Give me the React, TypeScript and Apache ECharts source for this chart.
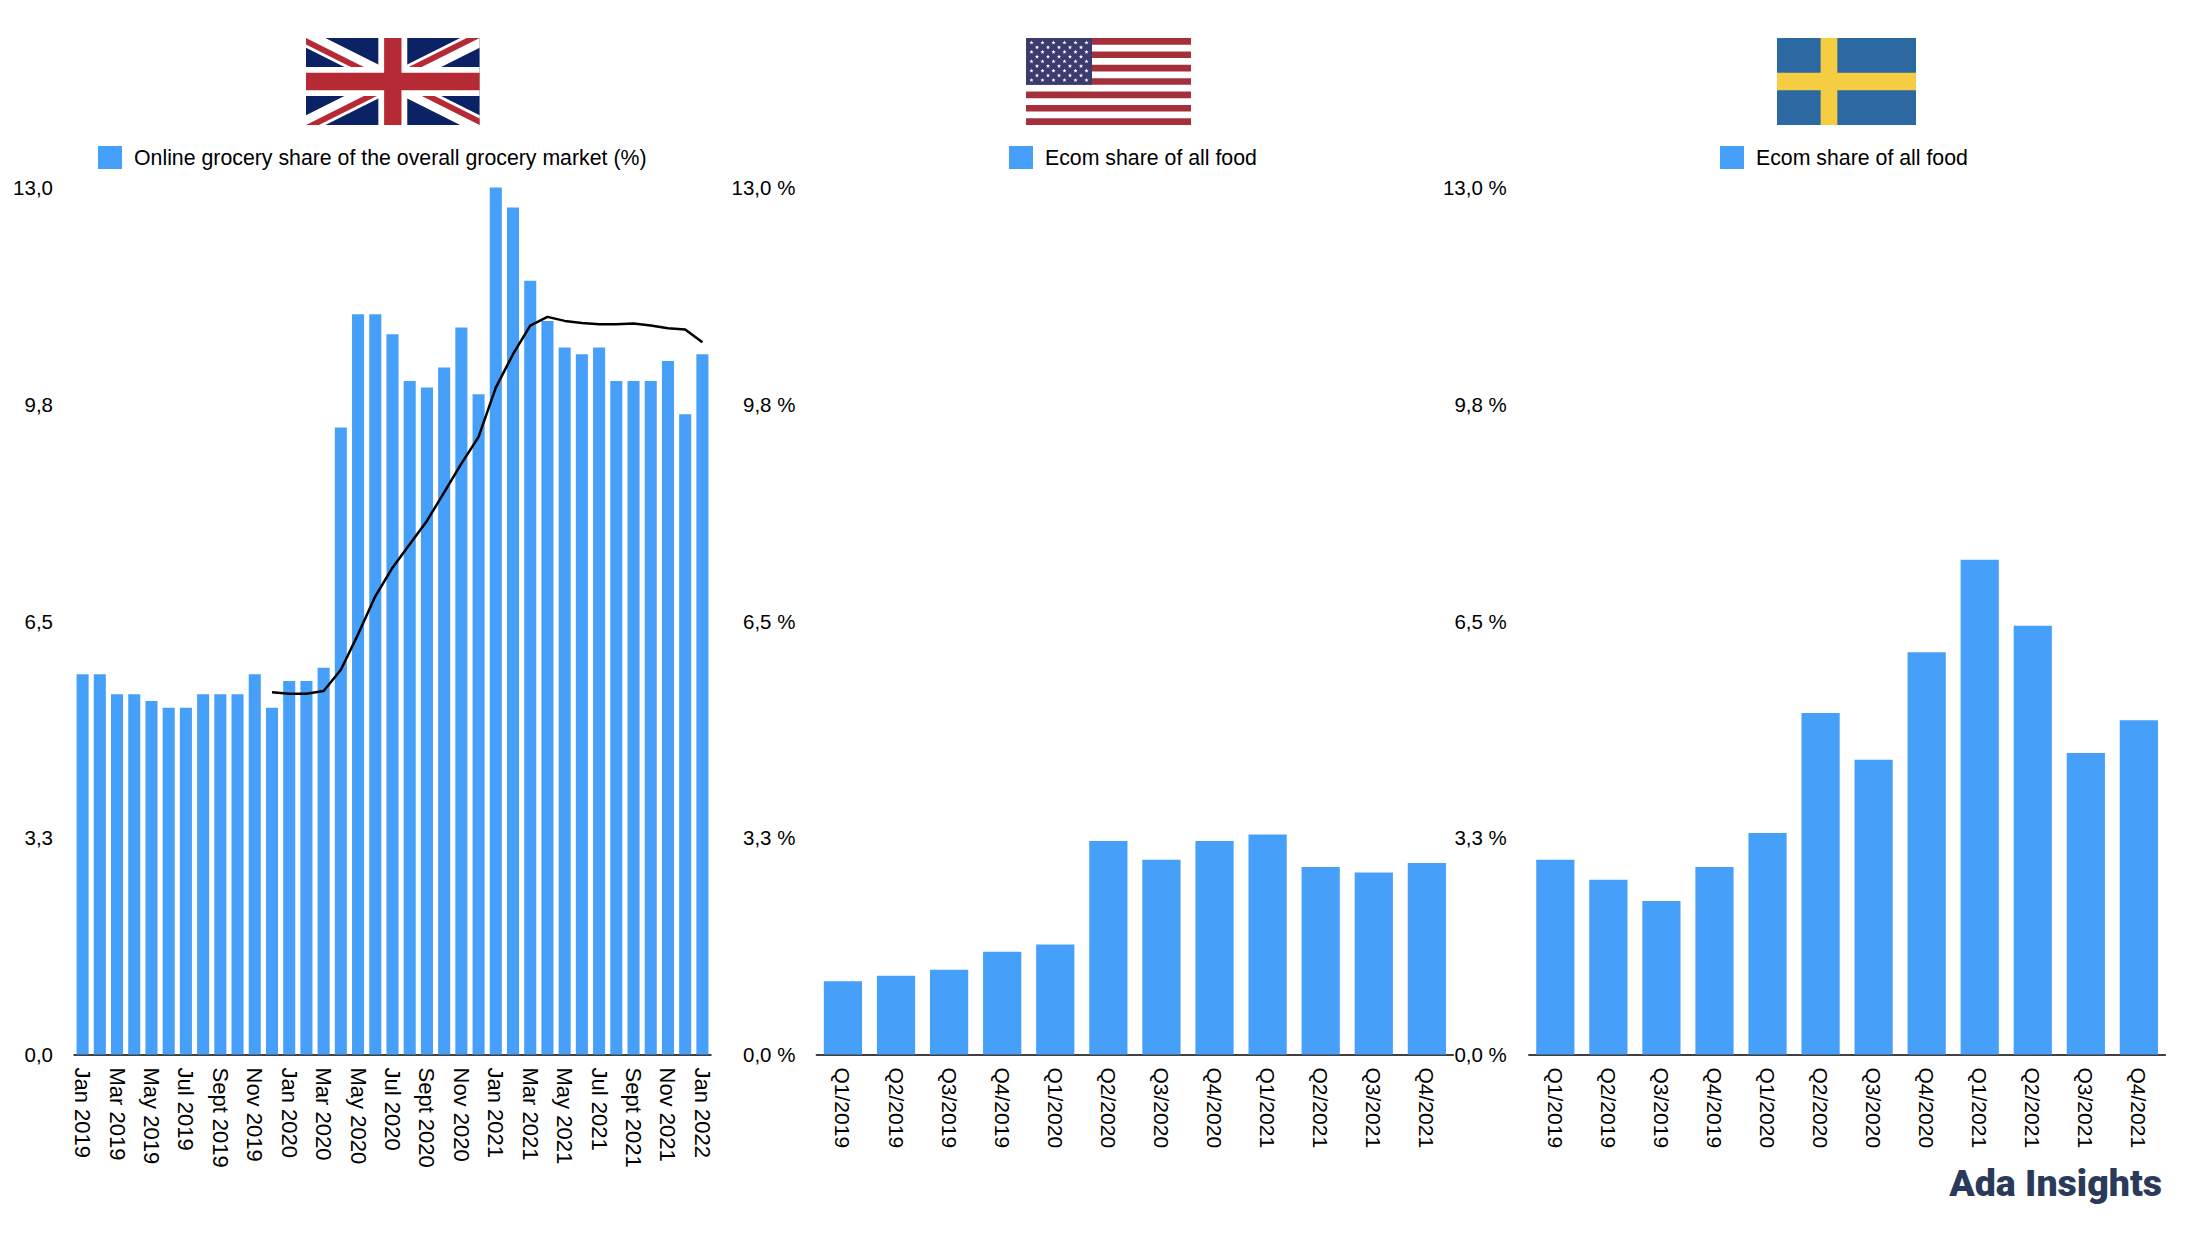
import React, { useEffect, useRef } from "react";
import * as echarts from "echarts";

const monthLabels = [
  "Jan 2019","Feb 2019","Mar 2019","Apr 2019","May 2019","Jun 2019","Jul 2019","Aug 2019","Sept 2019","Oct 2019","Nov 2019","Dec 2019",
  "Jan 2020","Feb 2020","Mar 2020","Apr 2020","May 2020","Jun 2020","Jul 2020","Aug 2020","Sept 2020","Oct 2020","Nov 2020","Dec 2020",
  "Jan 2021","Feb 2021","Mar 2021","Apr 2021","May 2021","Jun 2021","Jul 2021","Aug 2021","Sept 2021","Oct 2021","Nov 2021","Dec 2021",
  "Jan 2022",
];
const quarterLabels = ["Q1/2019","Q2/2019","Q3/2019","Q4/2019","Q1/2020","Q2/2020","Q3/2020","Q4/2020","Q1/2021","Q2/2021","Q3/2021","Q4/2021"];
const ukShare = [5.7,5.7,5.4,5.4,5.3,5.2,5.2,5.4,5.4,5.4,5.7,5.2,5.6,5.6,5.8,9.4,11.1,11.1,10.8,10.1,10.0,10.3,10.9,9.9,13.0,12.7,11.6,11.0,10.6,10.5,10.6,10.1,10.1,10.1,10.4,9.6,10.5];
const ukTrend = [null,null,null,null,null,null,null,null,null,null,null,5.43,5.41,5.41,5.45,5.77,6.3,6.87,7.3,7.65,8.0,8.43,8.86,9.26,10.0,10.5,10.93,11.06,11.0,10.97,10.95,10.95,10.96,10.93,10.89,10.87,10.68];
const usShare = [1.1,1.18,1.27,1.54,1.65,3.2,2.92,3.2,3.3,2.81,2.73,2.87];
const seShare = [2.92,2.62,2.3,2.81,3.32,5.12,4.42,6.03,7.42,6.43,4.52,5.01];
const yTicks: Record<string, string> = { "0": "0,0", "3.25": "3,3", "6.5": "6,5", "9.75": "9,8", "13": "13,0" };

const BLUE = "#469ff8";
const FONT = "Liberation Sans";

function ukFlag(x: number, y: number) {
  const s = 173.6 / 60, sy = 87 / 30;
  const P = (pts: number[][], fill: string) => ({ type: "polygon", shape: { points: pts.map(([a, b]) => [x + a * s, y + b * sy]) }, style: { fill } });
  const R = (a: number, b: number, w: number, h: number, fill: string) => ({ type: "rect", shape: { x: x + a * s, y: y + b * sy, width: w * s, height: h * sy }, style: { fill } });
  const d = 3.354;
  const dx = 6.708;
  const white = "#ffffff", red = "#b52a35", navy = "#0b2265";
  return [
    R(0, 0, 60, 30, navy),
    P([[0, 0], [dx, 0], [60, 30 - d], [60, 30], [60 - dx, 30], [0, d]], white),
    P([[60, 0], [60, d], [dx, 30], [0, 30], [0, 30 - d], [60 - dx, 0]], white),
    P([[0, 0], [30, 15], [25.53, 15], [0, 2.236]], red),
    P([[60, 0], [30, 15], [30, 12.764], [55.53, 0]], red),
    P([[60, 30], [30, 15], [34.47, 15], [60, 27.764]], red),
    P([[0, 30], [30, 15], [30, 17.236], [4.47, 30]], red),
    R(25, 0, 10, 30, white),
    R(0, 10, 60, 10, white),
    R(27, 0, 6, 30, red),
    R(0, 12, 60, 6, red),
  ];
}

function star(cx: number, cy: number, r: number) {
  const pts: number[][] = [];
  for (let i = 0; i < 10; i++) {
    const a = -Math.PI / 2 + (i * Math.PI) / 5;
    const q = i % 2 ? r * 0.42 : r;
    pts.push([cx + q * Math.cos(a), cy + q * Math.sin(a)]);
  }
  return { type: "polygon", shape: { points: pts }, style: { fill: "#ffffff" } };
}

function usFlag(x: number, y: number) {
  const W = 165, H = 87, st = H / 13;
  const out: any[] = [{ type: "rect", shape: { x, y, width: W, height: H }, style: { fill: "#ffffff" } }];
  for (let i = 0; i < 13; i += 2) out.push({ type: "rect", shape: { x, y: y + i * st, width: W, height: st }, style: { fill: "#a3303a" } });
  const cw = W * 0.4, ch = st * 7;
  out.push({ type: "rect", shape: { x, y, width: cw, height: ch }, style: { fill: "#3c3b6e" } });
  for (let r = 0; r < 9; r++) {
    const n = r % 2 ? 5 : 6;
    for (let c = 0; c < n; c++) {
      const sx = x + (cw / 12) * (1 + 2 * c + (r % 2 ? 1 : 0));
      out.push(star(sx, y + (ch / 10) * (r + 1), 2.2));
    }
  }
  return out;
}

function seFlag(x: number, y: number) {
  const W = 139, H = 87;
  return [
    { type: "rect", shape: { x, y, width: W, height: H }, style: { fill: "#2c68a2" } },
    { type: "rect", shape: { x: x + W * 0.314, y, width: W * 0.12, height: H }, style: { fill: "#f5cd43" } },
    { type: "rect", shape: { x, y: y + H * 0.4, width: W, height: H * 0.2 }, style: { fill: "#f5cd43" } },
  ];
}

const grids = [
  { left: 74, width: 637, top: 187.5, height: 867 },
  { left: 816.4, width: 637, top: 187.5, height: 867 },
  { left: 1528.8, width: 636.6, top: 187.5, height: 867 },
];

function xAxis(gridIndex: number, data: string[], interval: number, shift: number, size: number) {
  return {
    type: "category", gridIndex, data,
    axisLine: { lineStyle: { color: "#000000", width: 1.5 } },
    axisTick: { show: false },
    axisLabel: { interval, rotate: -90, margin: 13, fontFamily: FONT, fontSize: size, color: "#000000", padding: [shift, 0, 0, 0] },
  };
}
function yAxis(gridIndex: number, suffix: string, margin: number) {
  return {
    type: "value", gridIndex, min: 0, max: 13, interval: 3.25,
    axisLine: { show: false }, axisTick: { show: false }, splitLine: { show: false },
    axisLabel: {
      margin, fontFamily: FONT, fontSize: 20.5, color: "#000000", showMinLabel: true, showMaxLabel: true,
      formatter: (v: number) => (yTicks[String(v)] ?? String(v)) + suffix,
    },
  };
}
function legend(name: string, left: number) {
  return {
    data: [{ name, icon: "rect" }], left, top: 146, padding: 0, itemWidth: 24, itemHeight: 23, selectedMode: false,
    textStyle: { fontFamily: FONT, fontSize: 21.3, color: "#000000", padding: [0, 0, 0, 7] },
  };
}

export default function App() {
  const ref = useRef<HTMLDivElement>(null);
  useEffect(() => {
    const chart = echarts.init(ref.current!, undefined, { renderer: "svg" });
    const bar = (name: string, data: number[], i: number, w: string) => ({
      name, type: "bar", data, xAxisIndex: i, yAxisIndex: i, barWidth: w, itemStyle: { color: BLUE },
    });
    chart.setOption({
      animation: false,
      backgroundColor: "#ffffff",
      grid: grids,
      xAxis: [xAxis(0, monthLabels, 1, 3, 22), xAxis(1, quarterLabels, 0, 0, 21), xAxis(2, quarterLabels, 0, 0, 21)],
      yAxis: [yAxis(0, "", 21), yAxis(1, " %", 21), yAxis(2, " %", 22)],
      legend: [
        legend("Online grocery share of the overall grocery market (%)", 98),
        legend("Ecom share of all food", 1009),
        legend("Ecom share of all food ", 1720),
      ],
      series: [
        bar("Online grocery share of the overall grocery market (%)", ukShare, 0, "70%"),
        {
          name: "Trend", type: "line", data: ukTrend, xAxisIndex: 0, yAxisIndex: 0, symbol: "none",
          lineStyle: { color: "#000000", width: 2.5 }, z: 5,
        },
        bar("Ecom share of all food", usShare, 1, "72%"),
        bar("Ecom share of all food ", seShare, 2, "72%"),
      ],
      graphic: [
        ...ukFlag(306, 38),
        ...usFlag(1026, 38),
        ...seFlag(1777, 38),
        {
          type: "text", right: 50, top: 1164,
          style: { text: "Ada Insights", fontFamily: "Roboto", fontWeight: 900, fontSize: 37.5, fill: "#2a3a5a" },
        },
      ],
    });
    return () => chart.dispose();
  }, []);
  return <div ref={ref} style={{ position: "absolute", left: 0, top: 0, width: 2212, height: 1240 }} />;
}
